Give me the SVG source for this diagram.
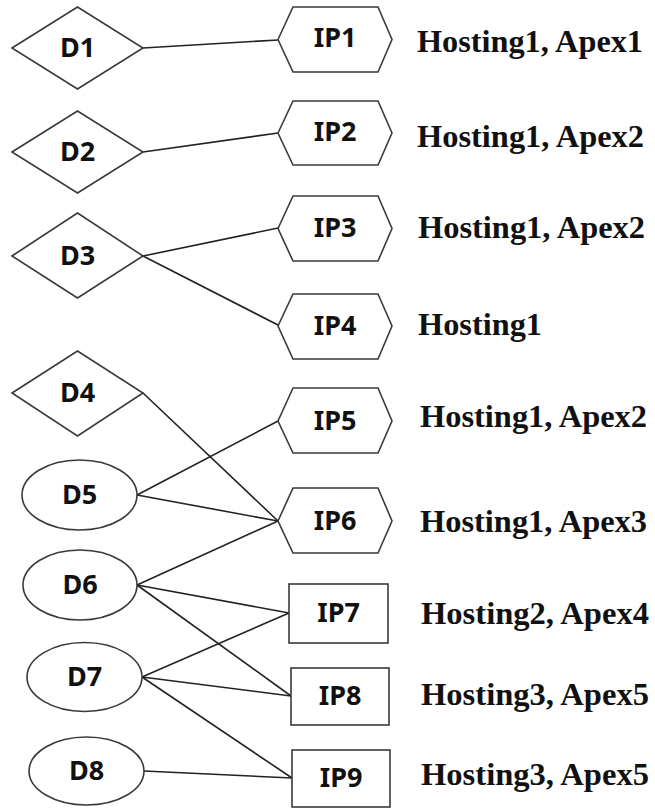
<svg xmlns="http://www.w3.org/2000/svg" width="655" height="812" viewBox="0 0 655 812">
  <style>
    .shape { fill: #ffffff; stroke: #3a3a3a; stroke-width: 1.6; }
    .edge { stroke: #222222; stroke-width: 1.6; fill: none; }
    .nlabel { font-family: "Noto Sans", "DejaVu Sans", sans-serif; font-weight: bold; font-size: 27px; fill: #111111; text-anchor: middle; }
    .info { font-family: "Liberation Serif", "Times New Roman", serif; font-weight: bold; font-size: 31px; fill: #111111; }
  </style>
  <rect width="655" height="812" fill="#ffffff"/>

  <!-- connectors: domain -> IP -->
  <g id="edges">
    <line class="edge" x1="143" y1="48" x2="278" y2="40"/>
    <line class="edge" x1="143" y1="152" x2="278" y2="133"/>
    <line class="edge" x1="143" y1="256" x2="278" y2="228"/>
    <line class="edge" x1="143" y1="256" x2="278" y2="325"/>
    <line class="edge" x1="143" y1="393" x2="278" y2="521"/>
    <line class="edge" x1="137" y1="495" x2="278" y2="421"/>
    <line class="edge" x1="137" y1="495" x2="278" y2="521"/>
    <line class="edge" x1="137" y1="585" x2="278" y2="521"/>
    <line class="edge" x1="137" y1="585" x2="289" y2="613"/>
    <line class="edge" x1="137" y1="585" x2="291" y2="696"/>
    <line class="edge" x1="142" y1="677" x2="289" y2="613"/>
    <line class="edge" x1="142" y1="677" x2="291" y2="696"/>
    <line class="edge" x1="142" y1="677" x2="292" y2="778"/>
    <line class="edge" x1="144" y1="771" x2="292" y2="778"/>
  </g>

  <!-- domains (diamonds) -->
  <g id="D1">
    <polygon class="shape" points="12,48 77.5,7 143,48 77.5,89"/>
    <text class="nlabel" x="77.5" y="57">D1</text>
  </g>
  <g id="D2">
    <polygon class="shape" points="12,152 77.5,111 143,152 77.5,193"/>
    <text class="nlabel" x="77.5" y="161">D2</text>
  </g>
  <g id="D3">
    <polygon class="shape" points="12,256 77.5,213 143,256 77.5,298"/>
    <text class="nlabel" x="77.5" y="265">D3</text>
  </g>
  <g id="D4">
    <polygon class="shape" points="12,393 77.5,351 143,393 77.5,436"/>
    <text class="nlabel" x="77.5" y="402">D4</text>
  </g>

  <!-- domains (ellipses) -->
  <g id="D5">
    <ellipse class="shape" cx="79.5" cy="495" rx="57.5" ry="35"/>
    <text class="nlabel" x="79.5" y="504">D5</text>
  </g>
  <g id="D6">
    <ellipse class="shape" cx="80" cy="585" rx="57" ry="35"/>
    <text class="nlabel" x="80" y="594">D6</text>
  </g>
  <g id="D7">
    <ellipse class="shape" cx="84.5" cy="677" rx="57.5" ry="34.5"/>
    <text class="nlabel" x="84.5" y="686">D7</text>
  </g>
  <g id="D8">
    <ellipse class="shape" cx="86.5" cy="771" rx="57.5" ry="34"/>
    <text class="nlabel" x="86.5" y="780">D8</text>
  </g>

  <!-- IPs (hexagons) -->
  <g id="IP1">
    <polygon class="shape" points="278,39.5 293,7 378,7 392,39.5 378,72 293,72"/>
    <text class="nlabel" x="335" y="47">IP1</text>
  </g>
  <g id="IP2">
    <polygon class="shape" points="278,133 293,101 378,101 392,133 378,165 293,165"/>
    <text class="nlabel" x="335" y="141">IP2</text>
  </g>
  <g id="IP3">
    <polygon class="shape" points="278,228.5 293,196 378,196 392,228.5 378,261 293,261"/>
    <text class="nlabel" x="335" y="237">IP3</text>
  </g>
  <g id="IP4">
    <polygon class="shape" points="278,326 293,294 378,294 392,326 378,359 293,359"/>
    <text class="nlabel" x="335" y="335">IP4</text>
  </g>
  <g id="IP5">
    <polygon class="shape" points="278,421 293,388 378,388 392,421 378,453 293,453"/>
    <text class="nlabel" x="335" y="430">IP5</text>
  </g>
  <g id="IP6">
    <polygon class="shape" points="278,521 293,488 378,488 392,521 378,553 293,553"/>
    <text class="nlabel" x="335" y="530">IP6</text>
  </g>

  <!-- IPs (rectangles) -->
  <g id="IP7">
    <rect class="shape" x="289" y="584" width="99" height="59"/>
    <text class="nlabel" x="338.5" y="622">IP7</text>
  </g>
  <g id="IP8">
    <rect class="shape" x="291" y="668" width="98" height="57"/>
    <text class="nlabel" x="340" y="705">IP8</text>
  </g>
  <g id="IP9">
    <rect class="shape" x="292" y="750" width="98" height="57"/>
    <text class="nlabel" x="341" y="787">IP9</text>
  </g>

  <!-- hosting / apex annotations -->
  <g id="labels">
    <text class="info" x="417" y="52" textLength="226" lengthAdjust="spacingAndGlyphs">Hosting1, Apex1</text>
    <text class="info" x="417" y="147" textLength="227" lengthAdjust="spacingAndGlyphs">Hosting1, Apex2</text>
    <text class="info" x="418" y="238" textLength="227" lengthAdjust="spacingAndGlyphs">Hosting1, Apex2</text>
    <text class="info" x="418" y="335" textLength="124" lengthAdjust="spacingAndGlyphs">Hosting1</text>
    <text class="info" x="420" y="427" textLength="227" lengthAdjust="spacingAndGlyphs">Hosting1, Apex2</text>
    <text class="info" x="420" y="532" textLength="227" lengthAdjust="spacingAndGlyphs">Hosting1, Apex3</text>
    <text class="info" x="421" y="624" textLength="228" lengthAdjust="spacingAndGlyphs">Hosting2, Apex4</text>
    <text class="info" x="421" y="705" textLength="228" lengthAdjust="spacingAndGlyphs">Hosting3, Apex5</text>
    <text class="info" x="421" y="785" textLength="228" lengthAdjust="spacingAndGlyphs">Hosting3, Apex5</text>
  </g>
</svg>
